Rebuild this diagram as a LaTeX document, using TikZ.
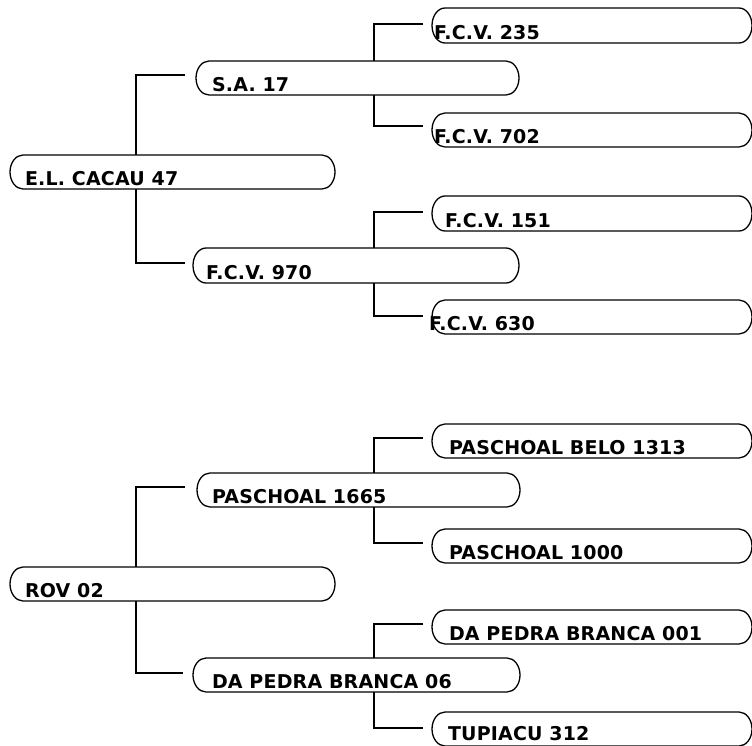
\documentclass[tikz,border=0pt]{standalone}
\usepackage{fontspec}
\newfontfamily\lblfont{DejaVu Sans Bold}[LetterSpace=1]
\usetikzlibrary{calc,backgrounds}
\tikzset{
  boxframe/.style={inner sep=0pt, outer sep=0pt},
  boxline/.style={draw=black, fill=white, line width=1.3pt},
  lbl/.style={anchor=base west, inner sep=0pt, outer sep=0pt, font=\lblfont\fontsize{19}{21}\selectfont},
  conn/.style={draw=black, line width=1.1pt}
}
% \entrybox{name}{x1}{y1}{x2}{y2}{textx}{text}{baseline}
\newcommand{\entrybox}[8]{%
  \node[boxframe, minimum width={(#4-#2)*1pt}, minimum height={(#5-#3)*1pt}] (#1) at ({(#2+#4)/2},{(#3+#5)/2}) {};
  \path[boxline] ($(#1.north west)+(13,0)$) -- ($(#1.north east)+(-13,0)$)
     arc[start angle=90, end angle=-90, x radius=13pt, y radius={(#5-#3)/2*1pt}]
     -- ($(#1.south west)+(13,0)$)
     arc[start angle=270, end angle=90, x radius=13pt, y radius={(#5-#3)/2*1pt}] -- cycle;
  \node[lbl] (#1t) at (#6,#8) {#7};
}
\begin{document}
\begin{tikzpicture}[x=1pt,y=-1pt]
\useasboundingbox (0,0) rectangle (752,745);
\begin{scope}
\clip (0,0) rectangle (752,745);
% top group
\entrybox{b235}{432}{8}{752}{43}{434}{F.C.V. 235}{39}
\entrybox{sa17}{196}{61}{519}{95}{212}{S.A. 17}{91}
\entrybox{b702}{432}{113}{752}{147}{434}{F.C.V. 702}{143}
\entrybox{el}{10}{155}{335}{189}{25}{E.L. CACAU 47}{185}
\entrybox{b151}{432}{196}{752}{231}{445}{F.C.V. 151}{227}
\entrybox{f970}{193}{248}{519}{283}{206}{F.C.V. 970}{279}
\entrybox{b630}{432}{300}{752}{334}{429}{F.C.V. 630}{330}
% bottom group
\entrybox{pb1313}{432}{424}{752}{458}{449}{PASCHOAL BELO 1313}{454}
\entrybox{p1665}{197}{473}{520}{507}{212}{PASCHOAL 1665}{503}
\entrybox{p1000}{432}{529}{752}{563}{449}{PASCHOAL 1000}{559}
\entrybox{rov}{10}{567}{335}{601}{25}{ROV 02}{597}
\entrybox{dp001}{432}{610}{752}{644}{449}{DA PEDRA BRANCA 001}{640}
\entrybox{dp06}{193}{658}{520}{692}{212}{DA PEDRA BRANCA 06}{688}
\entrybox{tup}{432}{712}{752}{746}{448}{TUPIACU 312}{740}
\begin{scope}[on background layer]
% root 1
\coordinate (v1) at ($(el.west)+(126,0)$);
\coordinate (e1a) at ($(sa17.west)+(-11,-3)$);
\coordinate (e1b) at ($(f970.west)+(-8,-2.5)$);
\path[conn] (e1a) -| (v1) |- (e1b);
% S.A. 17
\coordinate (v2) at ($(sa17.west)+(178,0)$);
\coordinate (e2a) at ($(b235.west)+(-9,-1.5)$);
\coordinate (e2b) at ($(b702.west)+(-9,-4)$);
\path[conn] (e2a) -| (v2) |- (e2b);
% F.C.V. 970
\coordinate (v3) at ($(f970.west)+(181,0)$);
\coordinate (e3a) at ($(b151.west)+(-9,-1.5)$);
\coordinate (e3b) at ($(b630.west)+(-9,-1)$);
\path[conn] (e3a) -| (v3) |- (e3b);
% root 2
\coordinate (v4) at ($(rov.west)+(126,0)$);
\coordinate (e4a) at ($(p1665.west)+(-12,-3)$);
\coordinate (e4b) at ($(dp06.west)+(-10,-2)$);
\path[conn] (e4a) -| (v4) |- (e4b);
% PASCHOAL 1665
\coordinate (v5) at ($(p1665.west)+(177,0)$);
\coordinate (e5a) at ($(pb1313.west)+(-9,-3)$);
\coordinate (e5b) at ($(p1000.west)+(-9,-3)$);
\path[conn] (e5a) -| (v5) |- (e5b);
% DA PEDRA BRANCA 06
\coordinate (v6) at ($(dp06.west)+(181,0)$);
\coordinate (e6a) at ($(dp001.west)+(-9,-3)$);
\coordinate (e6b) at ($(tup.west)+(-9,-1)$);
\path[conn] (e6a) -| (v6) |- (e6b);
\end{scope}
\end{scope}
\end{tikzpicture}
\end{document}
